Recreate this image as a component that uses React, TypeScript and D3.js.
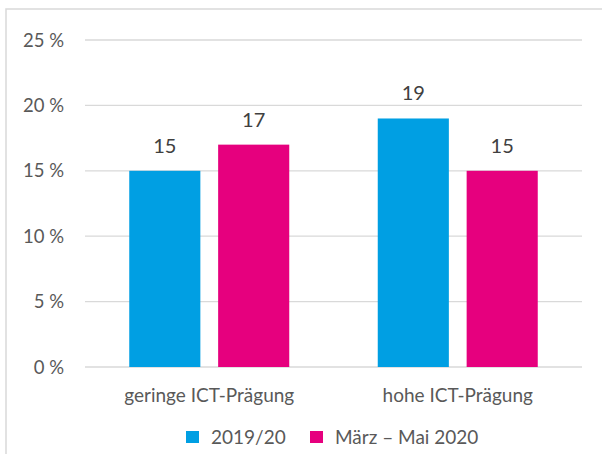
import React from "react";
import * as d3 from "d3";

const categories = ["geringe ICT-Prägung", "hohe ICT-Prägung"];
const seriesNames = ["2019/20", "März – Mai 2020"];
const series2019 = [15, 19];
const seriesMaerz = [17, 15];
const yTicks = [0, 5, 10, 15, 20, 25];
const colors = ["#009FE3", "#E6007E"];

export default function App() {
  const W = 602, H = 454;
  const left = 85, right = 582, top = 40, bottom = 367;
  const x = d3.scaleBand<string>().domain(categories).range([left, right]).paddingInner(0).paddingOuter(0);
  const inner = d3.scaleBand<number>().domain([0, 1]).range([0, 160]).paddingInner(0.2).paddingOuter(0);
  const y = d3.scaleLinear().domain([0, 25]).range([bottom, top]);
  const values = [series2019, seriesMaerz];
  const font = "Lato, Carlito, Calibri, sans-serif";
  return (
    <svg width={W} height={H} style={{ position: "absolute", left: 0, top: 0 }} fontFamily={font}>
      <rect x={0} y={0} width={W} height={H} fill="#fff" />
      <rect x={6} y={9} width={W + 10} height={H + 10} fill="none" stroke="#d9d9d9" strokeWidth={1.5} />
      {yTicks.map((t) => (
        <g key={t}>
          <line x1={left} x2={right} y1={y(t)} y2={y(t)} stroke="#d9d9d9" strokeWidth={1.3} />
          <text x={64} y={y(t)} dy="0.36em" textAnchor="end" fontSize={18.5} fill="#595959">
            {t} %
          </text>
        </g>
      ))}
      {categories.map((c, ci) => {
        const cx = x(c)! + x.bandwidth() / 2;
        const g0 = cx - 80;
        return (
          <g key={c}>
            {values.map((vals, si) => {
              const bx = g0 + inner(si)!;
              const v = vals[ci];
              return (
                <g key={si}>
                  <rect x={bx} y={y(v)} width={inner.bandwidth()} height={y(0) - y(v)} fill={colors[si]} />
                  <text x={bx + inner.bandwidth() / 2} y={y(v) - 18} textAnchor="middle" fontSize={20} fill="#404040">
                    {v}
                  </text>
                </g>
              );
            })}
            <text x={cx} y={402} textAnchor="middle" fontSize={19} fill="#595959">
              {c}
            </text>
          </g>
        );
      })}
      {seriesNames.map((s, i) => {
        const lx = i === 0 ? 186 : 310;
        return (
          <g key={s}>
            <rect x={lx} y={431} width={13} height={12} fill={colors[i]} />
            <text x={lx + 25} y={444} fontSize={19} fill="#595959">
              {s}
            </text>
          </g>
        );
      })}
    </svg>
  );
}
